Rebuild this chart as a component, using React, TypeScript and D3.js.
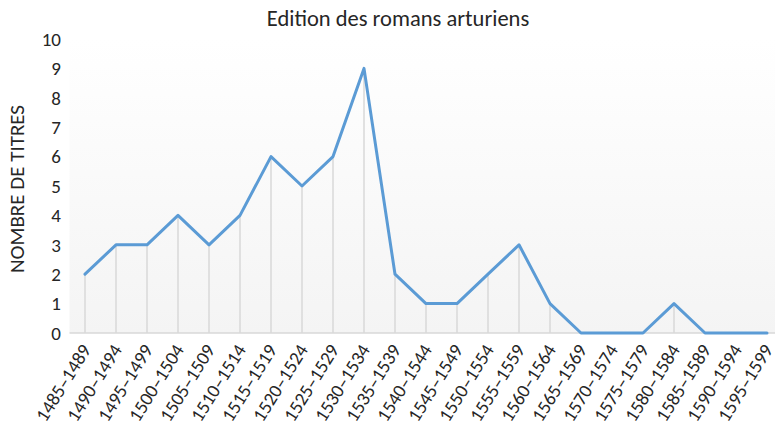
import React, { useRef, useEffect } from "react"
import * as d3 from "d3"

const periods = ["1485–1489", "1490–1494", "1495–1499", "1500–1504", "1505–1509", "1510–1514", "1515–1519", "1520–1524", "1525–1529", "1530–1534", "1535–1539", "1540–1544", "1545–1549", "1550–1554", "1555–1559", "1560–1564", "1565–1569", "1570–1574", "1575–1579", "1580–1584", "1585–1589", "1590–1594", "1595–1599"]
const titres = [2, 3, 3, 4, 3, 4, 6, 5, 6, 9, 2, 1, 1, 2, 3, 1, 0, 0, 0, 1, 0, 0, 0]
const yTicks = [0, 1, 2, 3, 4, 5, 6, 7, 8, 9, 10]

const font = "Carlito, 'Open Sans', 'Liberation Sans', sans-serif"

export default function App() {
  const svgRef = useRef<SVGSVGElement>(null)

  useEffect(() => {
    const svg = d3.select(svgRef.current)
    svg.selectAll("*").remove()

    const left = 69.5, right = 782.5, top = 39, bottom = 333

    const x = d3.scaleBand().domain(periods).range([left, right])
    const y = d3.scaleLinear().domain([0, 10]).range([bottom, top])
    const cx = (d: string) => x(d)! + x.bandwidth() / 2

    // fond en dégradé
    const grad = svg.append("defs").append("linearGradient")
      .attr("id", "bg").attr("x1", 0).attr("y1", 0).attr("x2", 0).attr("y2", 1)
    grad.append("stop").attr("offset", "0%").attr("stop-color", "#ffffff")
    grad.append("stop").attr("offset", "100%").attr("stop-color", "#f4f4f4")

    svg.append("rect")
      .attr("x", left).attr("y", top)
      .attr("width", right - left).attr("height", bottom - top)
      .attr("fill", "url(#bg)")

    // titre
    svg.append("text")
      .attr("x", 398).attr("y", 26)
      .attr("text-anchor", "middle")
      .attr("font-family", font).attr("font-size", "22.5px")
      .attr("fill", "#262626")
      .text("Edition des romans arturiens")

    // axe y label
    svg.append("text")
      .attr("transform", "translate(24,189) rotate(-90)")
      .attr("text-anchor", "middle")
      .attr("font-family", font).attr("font-size", "21px")
      .attr("fill", "#262626")
      .text("NOMBRE DE TITRES")

    svg.append("g").selectAll("text")
      .data(yTicks).enter().append("text")
      .attr("x", 61).attr("y", d => y(d))
      .attr("dy", "0.36em")
      .attr("text-anchor", "end")
      .attr("font-family", font).attr("font-size", "19px")
      .attr("fill", "#262626")
      .text(d => d)

    // lignes de projection
    svg.append("g").selectAll("line")
      .data(periods).enter().append("line")
      .attr("x1", d => cx(d)).attr("x2", d => cx(d))
      .attr("y1", (d, i) => y(titres[i])).attr("y2", bottom)
      .attr("stroke", "#d9d9d9").attr("stroke-width", 1.5)

    // axe x
    svg.append("line")
      .attr("x1", left).attr("x2", right)
      .attr("y1", bottom).attr("y2", bottom)
      .attr("stroke", "#d9d9d9").attr("stroke-width", 1.5)

    svg.append("g").selectAll("text")
      .data(periods).enter().append("text")
      .attr("transform", d => "translate(" + (cx(d) + 1) + "," + (bottom + 13) + ") rotate(-58)")
      .attr("text-anchor", "end")
      .attr("dy", "0.35em")
      .attr("font-family", font).attr("font-size", "19px")
      .attr("fill", "#262626")
      .text(d => d)

    // courbe
    const line = d3.line<number>()
      .x((d, i) => cx(periods[i]))
      .y(d => y(d))

    svg.append("path")
      .datum(titres)
      .attr("d", line)
      .attr("fill", "none")
      .attr("stroke", "#5b9bd5")
      .attr("stroke-width", 3)
      .attr("stroke-linejoin", "round")
      .attr("stroke-linecap", "round")
  }, [])

  return (
    <svg ref={svgRef} width={775} height={437}
      style={{ position: "absolute", left: 0, top: 0, background: "#fff" }} />
  )
}
